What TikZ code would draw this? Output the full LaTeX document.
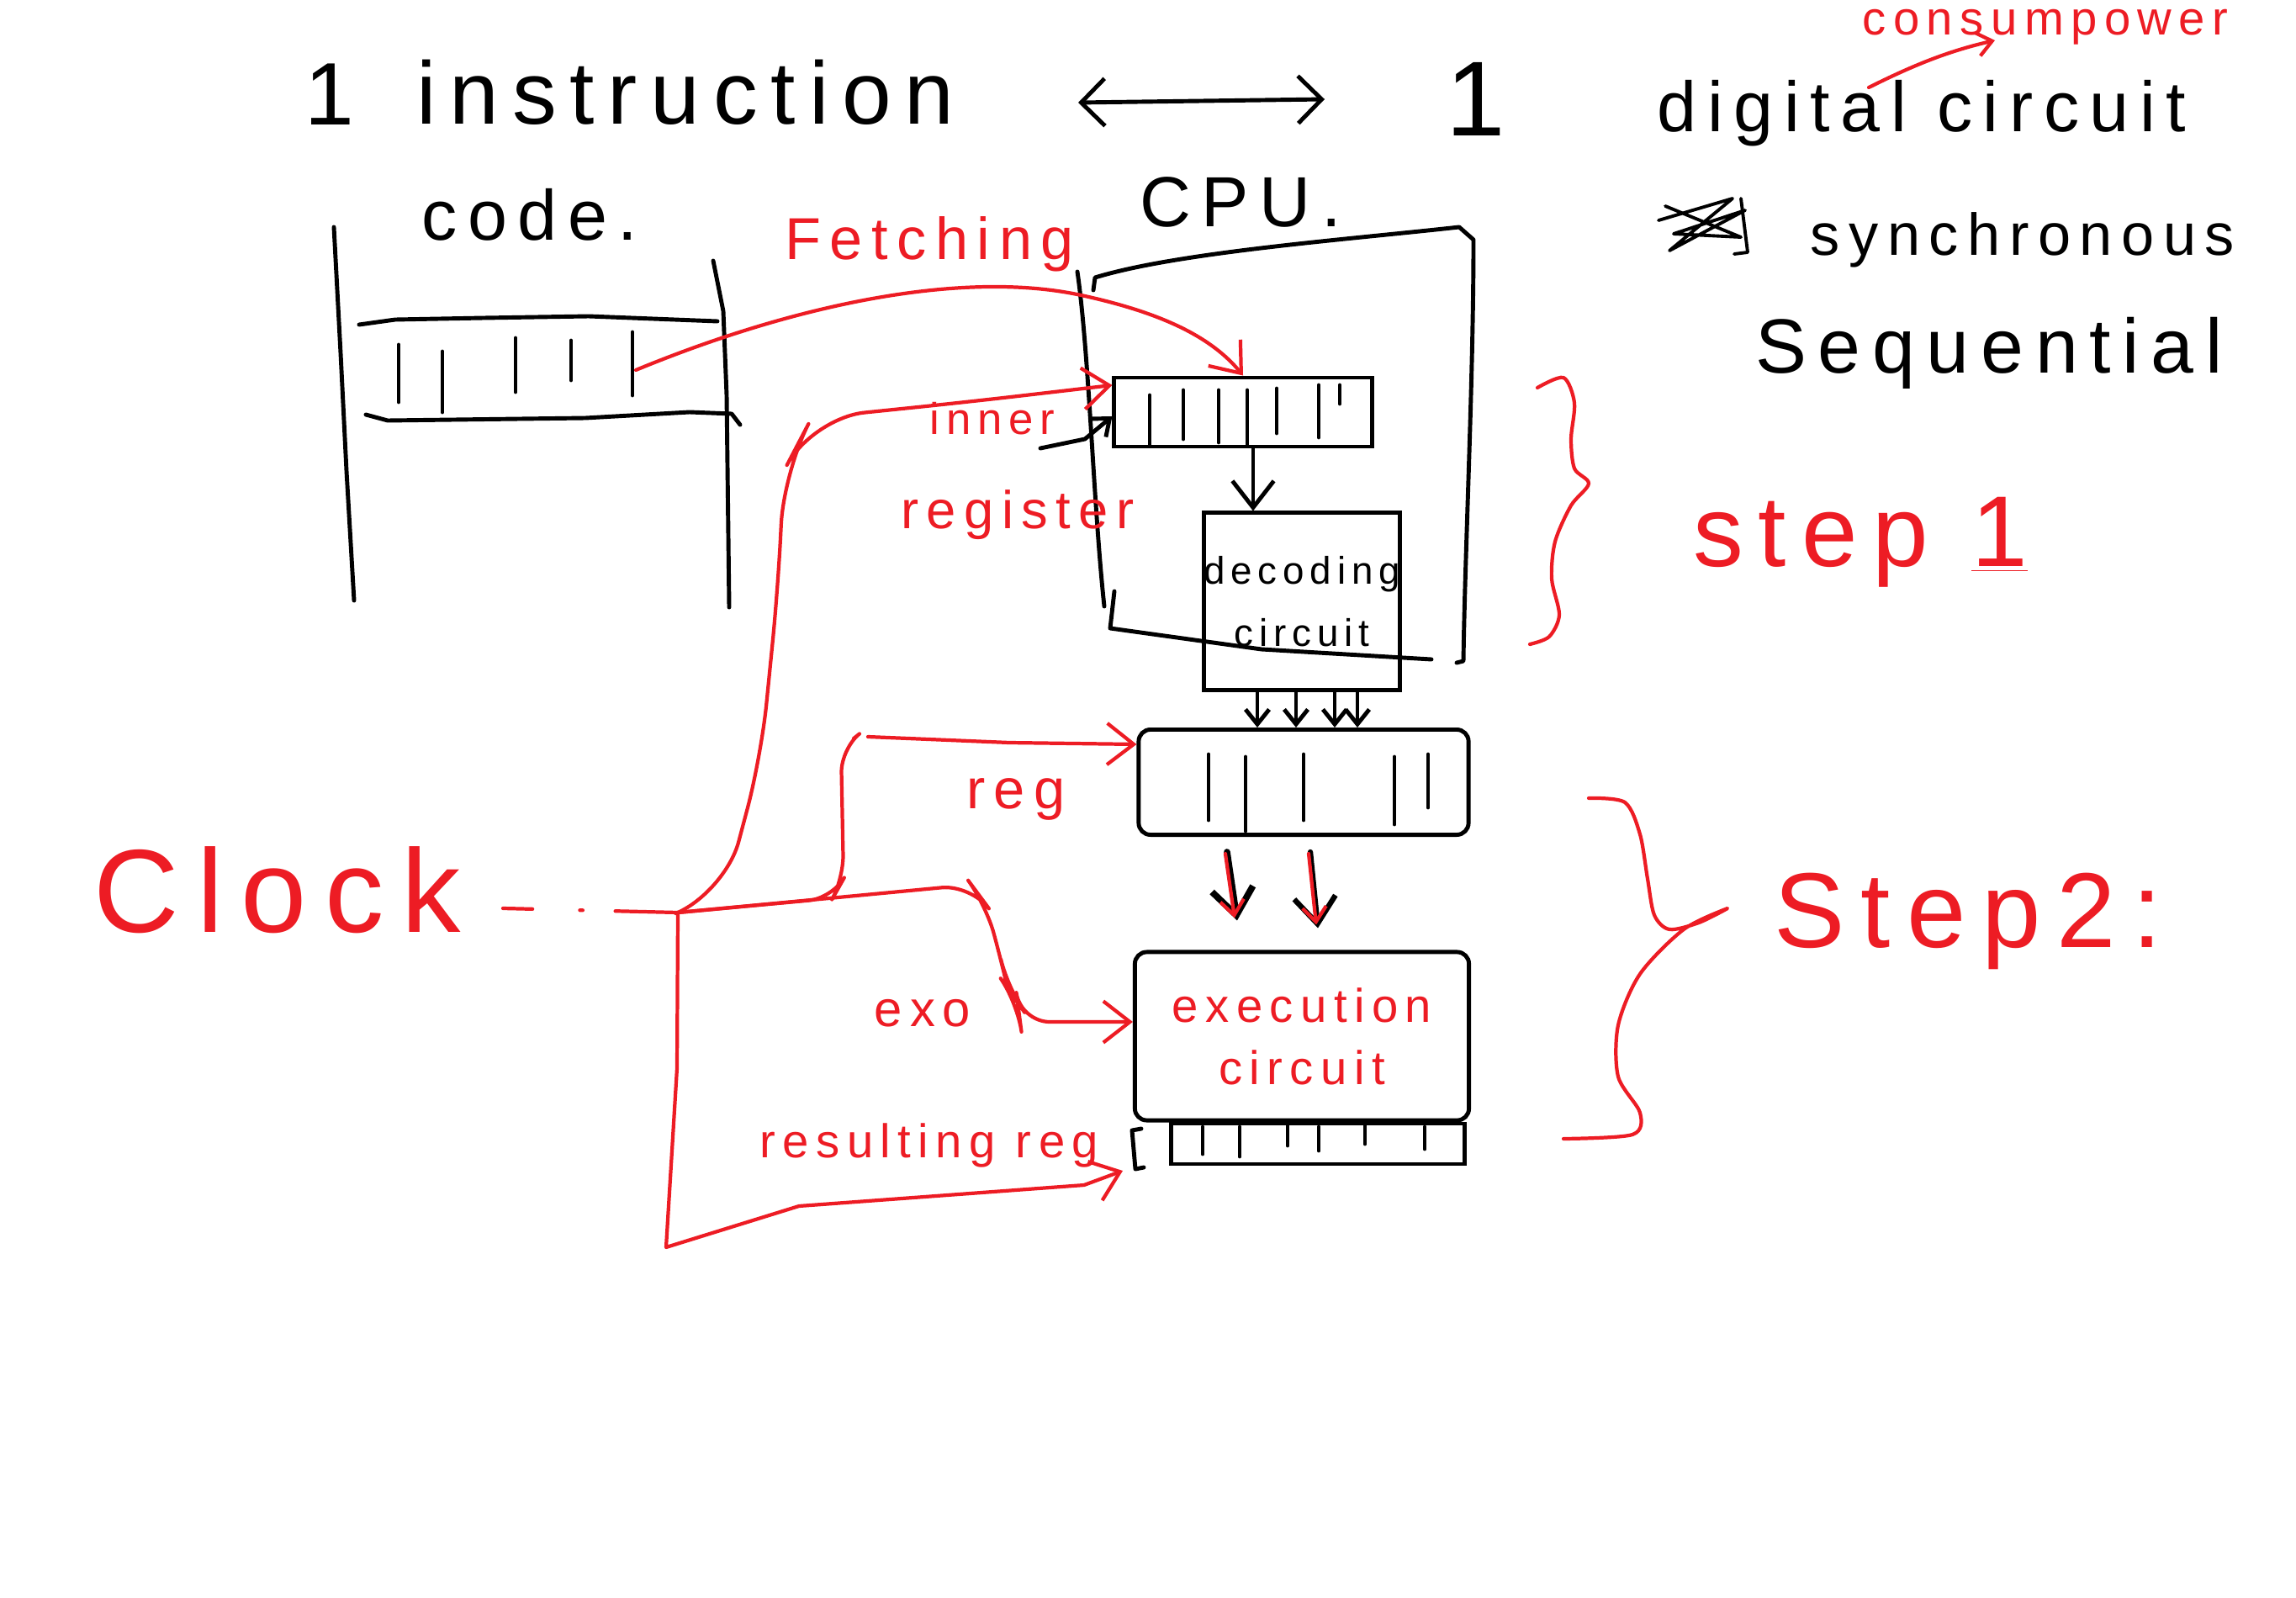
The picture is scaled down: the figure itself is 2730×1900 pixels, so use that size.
\documentclass[tikz,border=0pt]{standalone}
\usepackage{fontspec}
\newfontfamily\hand[LetterSpace=15]{Liberation Sans}
\usetikzlibrary{arrows.meta}
\definecolor{paint}{RGB}{237,28,36}
\tikzset{
  ink/.style={black, line width=1.4pt, line cap=round, line join=round},
  rink/.style={paint, line width=1.2pt, line cap=round, line join=round},
  lbl/.style={font=\hand\fontsize{#1}{#1}\selectfont, inner sep=0pt},
  box/.style={draw=black, line width=1.4pt, inner sep=0pt},
  head/.style={-{Straight Barb[length=9pt,width=14pt]}},
  small head/.style={-{Straight Barb[length=5pt,width=8pt]}},
}
\begin{document}
\begin{tikzpicture}[x=0.01cm, y=-0.01cm]
  \fill[white] (0,0) rectangle (2730,1900);
  \useasboundingbox (0,0) rectangle (2730,1900);

  % title
  \node[lbl=30] (one) at (392,112) {1};
  \node[lbl=30] (instr) at (815,110) {instruction};
  \node[lbl=36] (onecpu) at (1755,118) {1};
  \coordinate (biL) at (1282,122);
  \coordinate (biR) at (1575,118);
  \draw[ink, {Straight Barb[length=8pt,width=16pt]}-{Straight Barb[length=8pt,width=16pt]}] (biL) -- (biR);
  \node[lbl=24] (dc) at (2285,135) {digital circuit};
  \node[lbl=16, text=paint] (cp) at (2432,32) {consumpower};
  \coordinate (cpa) at (2222,104);
  \coordinate (cpb) at (2372,48);
  \draw[rink, small head] (cpa) .. controls (2280,75) and (2320,60) .. (cpb);
  \draw[ink, line width=1.1pt] (1972,262) -- (2060,236) -- (1985,298) -- (2075,250) -- (1990,278) -- (2070,282) -- (1980,245)
    (2070,236) -- (2078,300) -- (2062,302);
  \node[lbl=20] (sync) at (2405,285) {synchronous};
  \node[lbl=26] (seq) at (2365,420) {Sequential};

  % code
  \node[lbl=24] (code) at (630,255) {code.};
  \draw[ink] (397,270) -- (405,420) -- (412,560) -- (421,714);
  \draw[ink] (848,310) -- (860,370) -- (864,470) -- (867,722);
  \draw[ink] (427,386) -- (470,380) -- (575,378) -- (700,376) -- (853,382);
  \draw[ink] (435,493) -- (461,500) -- (696,497) -- (820,490) -- (870,492) -- (880,505);
  \foreach \x/\a/\b in {474/410/478, 526/418/490, 613/402/466, 679/405/452, 752/395/470}
    \draw[ink] (\x,\a) -- (\x,\b);
  \coordinate (instr0) at (756,440);

  % cpu
  \node[lbl=24] (cpu) at (1475,240) {CPU.};
  \draw[ink] (1281,323) .. controls (1295,420) and (1300,600) .. (1313,721);
  \draw[ink] (1300,345) -- (1302,330) .. controls (1400,300) and (1600,285) .. (1735,270) -- (1752,285)
    .. controls (1752,450) and (1742,650) .. (1740,786) -- (1732,788);
  \draw[ink] (1325,703) -- (1320,747) -- (1500,772) -- (1702,784);

  \node[box, minimum width=3.06cm, minimum height=0.82cm] (inreg) at (1478,490) {};
  \foreach \x/\a/\b in {1367/470/528, 1407/464/522, 1449/464/526, 1483/464/528, 1518/462/515, 1568/458/520, 1593/458/480}
    \draw[ink] (\x,\a) -- (\x,\b);
  \node[box, minimum width=2.15cm, minimum height=2.1cm, lbl=13, align=center] (dec) at (1548,715) {decoding\\[8pt]circuit};
  \draw[ink, head] ([xshift=-0.58cm]dec.north |- inreg.south) -- ([xshift=-0.58cm]dec.north);

  \node[box, rounded corners=4pt, minimum width=3.92cm, minimum height=1.25cm] (reg) at (1550,930) {};
  \foreach \x/\a/\b in {1437/897/975, 1481/900/988, 1550/897/975, 1658/900/980, 1698/897/960}
    \draw[ink] (\x,\a) -- (\x,\b);
  \foreach \x in {1495,1541,1587,1614}
    \draw[ink, small head] (\x,0 |- dec.south) -- (\x,0 |- reg.north);

  \node[box, rounded corners=4pt, minimum width=3.97cm, minimum height=2.0cm, lbl=16, text=paint, align=center] (exe) at (1548,1232) {execution\\[5pt]circuit};
  \draw[ink, line width=2.2pt, head] ([xshift=-0.91cm,yshift=-0.18cm]reg.south) -- ([xshift=-0.77cm,yshift=0.35cm]exe.north);
  \draw[ink, line width=1.8pt, head] ([xshift=0.08cm,yshift=-0.18cm]reg.south) -- ([xshift=0.19cm,yshift=0.26cm]exe.north);
  \draw[rink, small head] ([xshift=-0.93cm,yshift=-0.2cm]reg.south) -- ([xshift=-0.8cm,yshift=0.38cm]exe.north);
  \draw[rink, small head] ([xshift=0.06cm,yshift=-0.2cm]reg.south) -- ([xshift=0.17cm,yshift=0.3cm]exe.north);

  \node[box, minimum width=3.48cm, minimum height=0.48cm] (res) at (1567,1360) {};
  \draw[ink] (1357,1342) -- (1346,1344) -- (1350,1390) -- (1360,1388);
  \foreach \x/\a/\b in {1430/1340/1372, 1474/1340/1375, 1531/1336/1362, 1568/1340/1368, 1623/1338/1360, 1694/1340/1366}
    \draw[ink] (\x,\a) -- (\x,\b);

  % fetching
  \node[lbl=20, text=paint] (fetch) at (1105,290) {Fetching};
  \draw[rink, head] (instr0) .. controls (950,360) and (1150,320) .. (1290,352)
    .. controls (1380,372) and (1440,400) .. (inreg.north);

  % clock
  \node[lbl=40, text=paint] (clock) at (330,1058) {Clock};
  \coordinate (clk) at (598,1080);
  \coordinate (jn) at (806,1085);
  \draw[rink, dash pattern=on 10pt off 16pt on 1pt off 11pt on 30pt] (clk) -- (jn);
  \draw[rink, head, rounded corners=18pt] (jn) -- (862,1062) -- (905,900) -- (925,700) -- (932,560)
    -- (965,497) -- (1150,478) -- ([yshift=0.32cm]inreg.west);
  \draw[ink, small head] (1237,533) -- (1290,522) -- ([yshift=-0.05cm]inreg.west);
  \draw[rink, rounded corners=8pt] (jn) -- (990,1068) -- (1003,1045) -- (1000,890) -- (1015,878);
  \draw[rink, head] (1032,876) -- (1200,883) -- ([yshift=0.45cm]reg.west);
  \draw[rink, head, rounded corners=10pt] (jn) -- (1155,1052) -- (1172,1075) -- (1190,1140) -- (1198,1175)
    -- (1210,1192) -- (1213,1215) -- ([yshift=0.17cm]exe.west);
  \coordinate (resin) at (1335,1392);
  \draw[rink, head] (jn) -- (805,1270) -- (792,1483) -- (950,1434) -- (1289,1409) -- (resin);

  \node[lbl=15, text=paint] (inner) at (1180,498) {inner};
  \node[lbl=18, text=paint] (regis) at (1210,612) {register};
  \node[lbl=19, text=paint] (reglbl) at (1208,950) {reg};
  \node[lbl=17, text=paint] (exo) at (1097,1205) {exo};
  \node[lbl=16, text=paint] (reslbl) at (1105,1362) {resulting reg};

  % steps
  \draw[rink] plot[smooth] coordinates {(1828,461) (1859,449) (1872,479) (1868,522) (1872,557) (1889,575)
    (1868,601) (1849,644) (1845,688) (1854,731) (1842,757) (1819,766)};
  \node[lbl=34, text=paint] (s1) at (2212,645) {step \underline{1}};
  \draw[rink] plot[smooth] coordinates {(1889,949) (1932,954) (1950,992) (1959,1045) (1967,1088) (1985,1105)
    (2020,1097) (2054,1080) (2002,1105) (1950,1158) (1924,1219) (1924,1280) (1950,1323) (1941,1349) (1859,1354)};
  \node[lbl=36, text=paint] (s2) at (2340,1095) {Step2:};
\end{tikzpicture}
\end{document}
